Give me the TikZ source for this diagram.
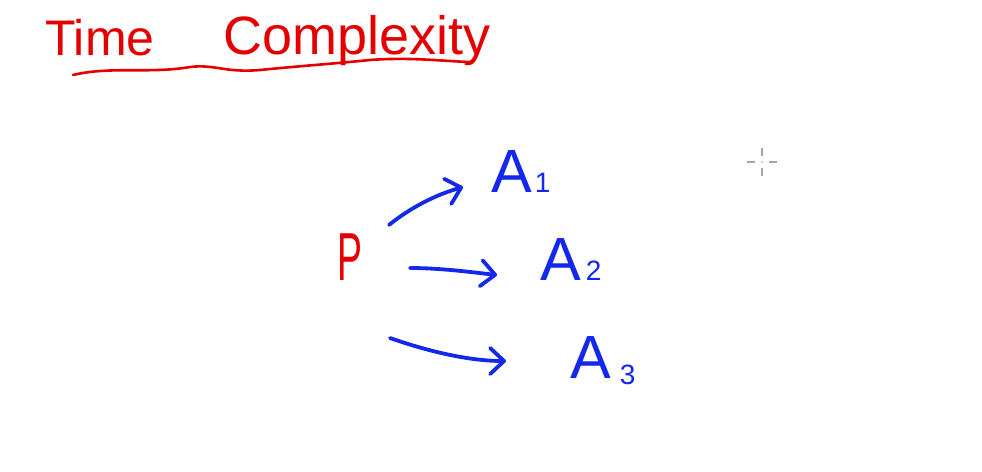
\documentclass[tikz,border=0pt]{standalone}
\usepackage{fontspec}
\setmainfont{Liberation Sans}
\usetikzlibrary{arrows.meta}
\definecolor{ink}{RGB}{228,0,0}
\definecolor{pen}{RGB}{20,40,235}
\tikzset{
  title/.style={text=ink, inner sep=0pt, anchor=base west, font=\fontsize{50}{52}\selectfont},
  letter/.style={text=pen, inner sep=0pt, anchor=base west, font=\fontsize{61}{63}\selectfont},
  arr/.style={draw=pen, line width=3.8pt, line cap=round, line join=round,
    -{Straight Barb[length=14pt,width=26pt,line cap=round,line join=round]}},
  cross/.style={draw=gray!70, line width=1.6pt}
}
\newcommand{\subsc}[1]{{\fontsize{28}{28}\selectfont #1}}
\begin{document}
\begin{tikzpicture}[x=1pt,y=-1pt]
\useasboundingbox (0,0) rectangle (982,471);
\fill[white] (0,0) rectangle (982,471);
% title
\node[title] (t1) at (45,55) {Time};
\node[title, font=\fontsize{54}{56}\selectfont] (t2) at (223,54) {Complexity};
\draw[ink, line width=2.6pt, line cap=round] (73,75) .. controls (110,66) and (150,74) .. (190,67)
  .. controls (215,64) and (225,73) .. (260,70) .. controls (300,66) and (330,64) .. (370,60)
  .. controls (410,57) and (440,61) .. (470,62);
% P and A nodes
\node[text=ink, inner sep=0pt, anchor=base, font=\fontsize{68}{70}\selectfont] (P) at (350,280) {\scalebox{0.55}[1]{P}};
\node[letter] (A1) at (491,192) {A\hspace{3pt}\subsc{1}};
\node[letter] (A2) at (540,280) {A\hspace{5pt}\subsc{2}};
\node[letter] (A3) at (570,378) {A\hspace{9pt}\raisebox{-6pt}{\subsc{3}}};
% arrow end points
\coordinate (s1) at (389,225);
\coordinate (e1) at (463,187);
\coordinate (s2) at (410,268);
\coordinate (e2) at (497,275);
\coordinate (s3) at (390,338);
\coordinate (e3) at (506,361);
\draw[arr] (s1) .. controls (410,208) and (435,195) .. (e1);
\draw[arr] (s2) .. controls (440,268) and (470,272) .. (e2);
\draw[arr] (s3) .. controls (430,352) and (470,361) .. (e3);
% cursor crosshair
\coordinate (c) at (762,162);
\draw[cross] ([yshift=-14pt]c) -- ([yshift=-6pt]c);
\draw[cross] ([yshift=6pt]c) -- ([yshift=14pt]c);
\draw[cross] ([xshift=-15pt]c) -- ([xshift=-7pt]c);
\draw[cross] ([xshift=7pt]c) -- ([xshift=15pt]c);
\fill[gray!70] (c) circle (0.9pt);
\end{tikzpicture}
\end{document}
